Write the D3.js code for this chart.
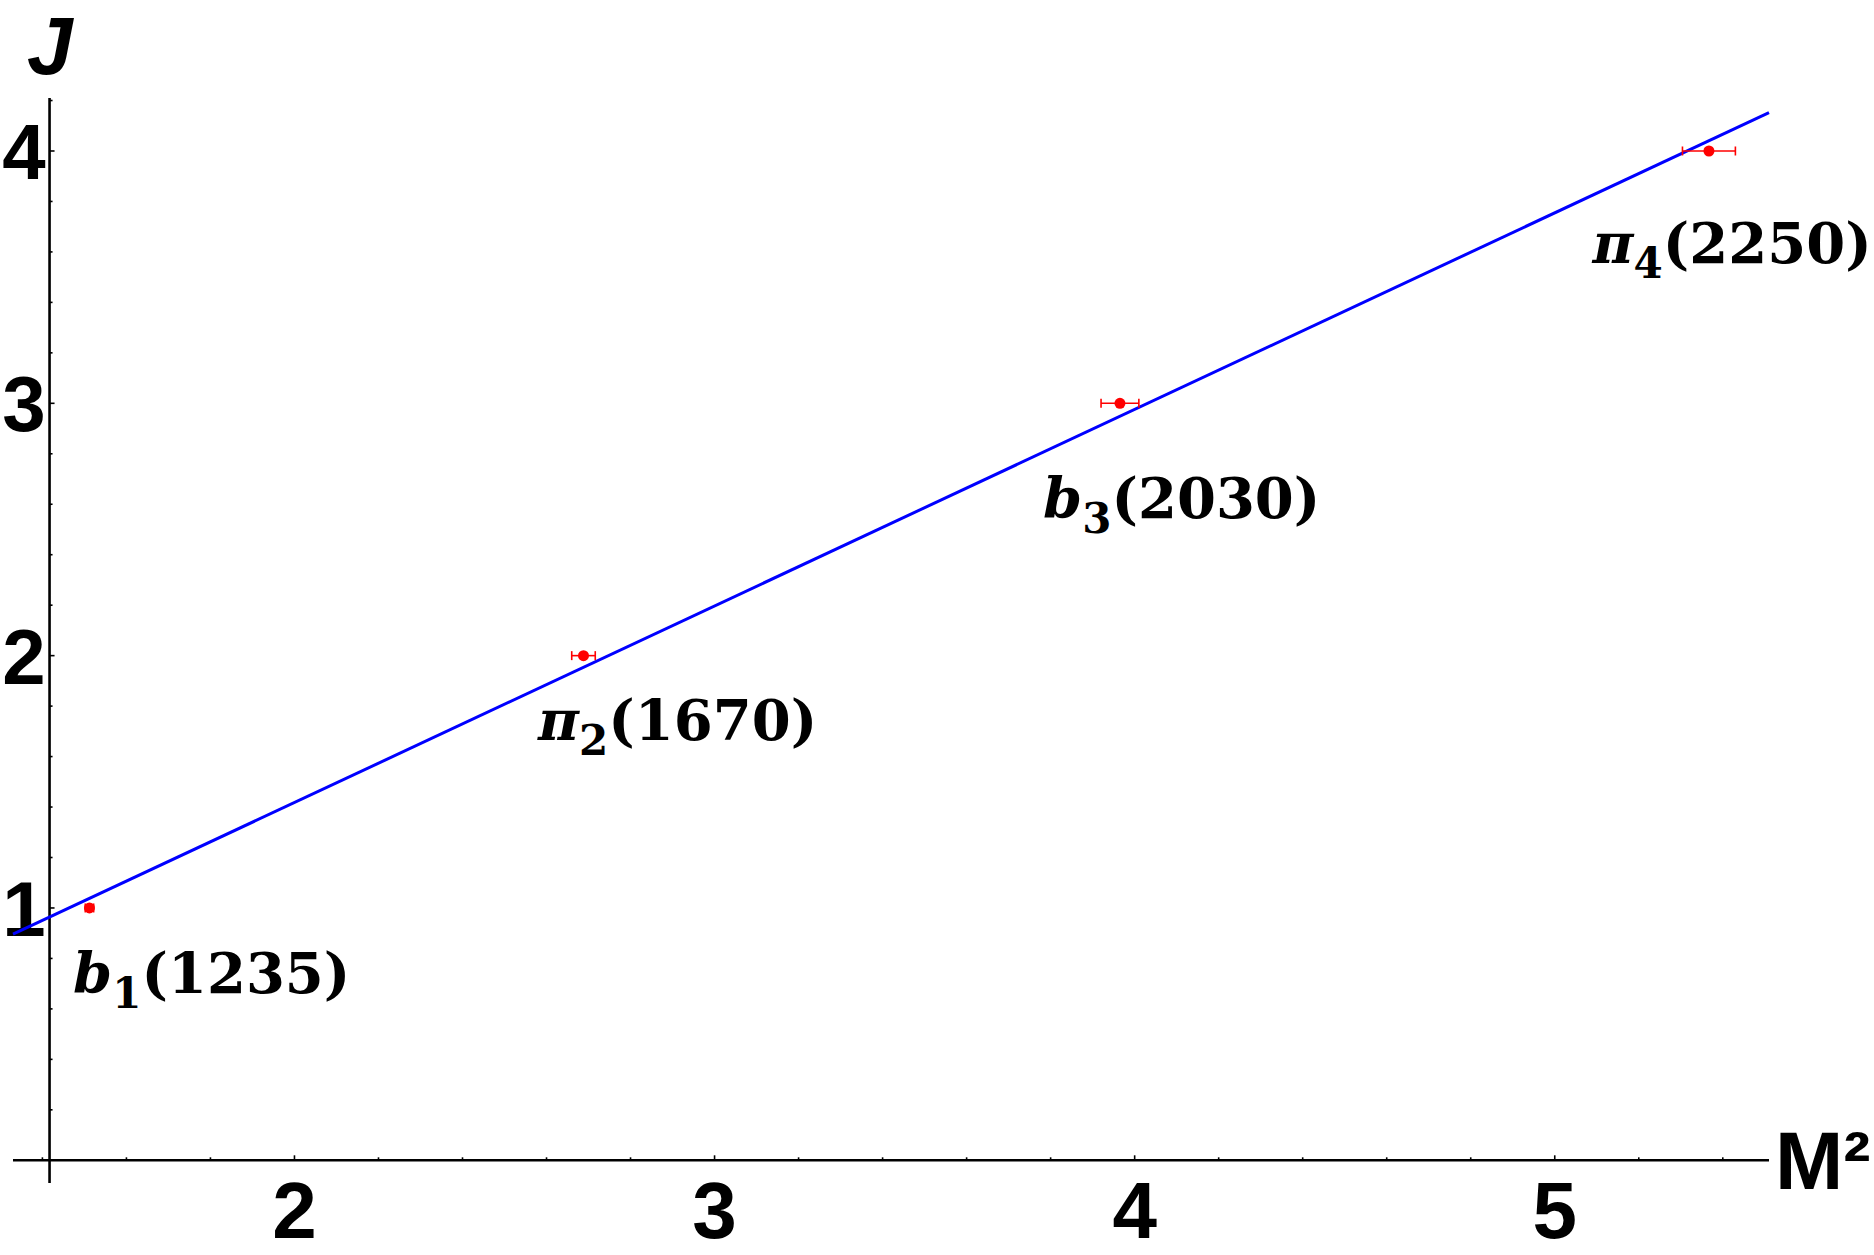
<!DOCTYPE html>
<meta charset="utf-8">
<style>
  body { margin: 0; background: #fff; }
  svg { display: block; }
</style>
<body>
<div class="chart"></div>

<script src="https://d3js.org/d3.v7.min.js"></script>
<script>

// data
var mesonNames = ["b", "π", "b", "π"];
var mesonSub   = ["1", "2", "3", "4"];
var mesonMass  = ["1235", "1670", "2030", "2250"];
var massSq     = [1.512, 2.688, 3.965, 5.367];
var massSqErr  = [0.010, 0.028, 0.045, 0.063];
var spinJ      = [1, 2, 3, 4];

// label anchors in data units (left edge, baseline)
var labelM2 = [1.473, 2.580, 3.782, 5.090];
var labelJ  = [0.663, 1.666, 2.546, 3.556];

// fitted trajectory, end points
var fitM2 = [1.33, 5.51];
var fitJ  = [0.896, 4.152];

var xTicks = [2, 3, 4, 5];
var yTicks = [1, 2, 3, 4];
var xMinor = d3.range(1.4, 5.5, 0.2);
var yMinor = d3.range(0.2, 4.21, 0.2);

var width = 1874, height = 1255;

var x = d3.scaleLinear().domain([1.33, 5.51]).range([13, 1769]);
var y = d3.scaleLinear().domain([-0.09, 4.21]).range([1183, 98]);
var yAxisAt = 1.417;

var svg = d3.select(".chart").append("svg")
    .attr("width", width)
    .attr("height", height);

// x axis line
svg.append("line")
    .attr("x1", x.range()[0]).attr("x2", x.range()[1])
    .attr("y1", y(0)).attr("y2", y(0))
    .style("stroke", "#000").style("stroke-width", "2.6px");

// y axis line
svg.append("line")
    .attr("x1", x(yAxisAt)).attr("x2", x(yAxisAt))
    .attr("y1", y.range()[0]).attr("y2", y.range()[1])
    .style("stroke", "#000").style("stroke-width", "2.6px");

// x ticks
svg.selectAll(".xminor")
    .data(xMinor)
  .enter().append("line")
    .attr("x1", function(d) { return x(d); })
    .attr("x2", function(d) { return x(d); })
    .attr("y1", y(0))
    .attr("y2", function(d) {
      return Math.abs(d - Math.round(d)) < 1e-6 ? y(0) - 5 : y(0) - 3; })
    .style("stroke", "#000").style("stroke-width", "1.6px");

svg.selectAll(".xlab")
    .data(xTicks)
  .enter().append("text")
    .attr("x", function(d) { return x(d); })
    .attr("y", y(0) + 78)
    .attr("text-anchor", "middle")
    .style("font-family", "'Liberation Sans', Arial, sans-serif")
    .style("font-weight", "bold")
    .style("font-size", "80px")
    .text(function(d) { return d; });

// y ticks
svg.selectAll(".yminor")
    .data(yMinor)
  .enter().append("line")
    .attr("y1", function(d) { return y(d); })
    .attr("y2", function(d) { return y(d); })
    .attr("x1", x(yAxisAt))
    .attr("x2", function(d) {
      return Math.abs(d - Math.round(d)) < 1e-6 ? x(yAxisAt) + 5 : x(yAxisAt) + 3; })
    .style("stroke", "#000").style("stroke-width", "1.6px");

svg.selectAll(".ylab")
    .data(yTicks)
  .enter().append("text")
    .attr("x", x(yAxisAt) - 4)
    .attr("y", function(d) { return y(d) + 28; })
    .attr("text-anchor", "end")
    .style("font-family", "'Liberation Sans', Arial, sans-serif")
    .style("font-weight", "bold")
    .style("font-size", "78px")
    .text(function(d) { return d; });

// axis titles
svg.append("text")
    .attr("x", 27).attr("y", 74)
    .style("font-family", "'Liberation Sans', Arial, sans-serif")
    .style("font-weight", "bold")
    .style("font-style", "italic")
    .style("font-size", "82px")
    .text("J");

svg.append("text")
    .attr("x", 1775).attr("y", 1189)
    .style("font-family", "'Liberation Sans', Arial, sans-serif")
    .style("font-weight", "bold")
    .style("font-size", "82px")
    .text("M²");

// fitted line
svg.append("line")
    .attr("x1", x(fitM2[0])).attr("y1", y(fitJ[0]))
    .attr("x2", x(fitM2[1])).attr("y2", y(fitJ[1]))
    .style("stroke", "#0000ff").style("stroke-width", "3px");

// error bars
var idx = d3.range(massSq.length);
svg.selectAll(".err")
    .data(idx)
  .enter().append("line")
    .attr("x1", function(i) { return x(massSq[i] - massSqErr[i]); })
    .attr("x2", function(i) { return x(massSq[i] + massSqErr[i]); })
    .attr("y1", function(i) { return y(spinJ[i]); })
    .attr("y2", function(i) { return y(spinJ[i]); })
    .style("stroke", "#ff0000").style("stroke-width", "1.6px");

[-1, 1].forEach(function(s) {
  svg.selectAll(".cap" + s)
      .data(idx)
    .enter().append("line")
      .attr("x1", function(i) { return x(massSq[i] + s * massSqErr[i]); })
      .attr("x2", function(i) { return x(massSq[i] + s * massSqErr[i]); })
      .attr("y1", function(i) { return y(spinJ[i]) - 4.5; })
      .attr("y2", function(i) { return y(spinJ[i]) + 4.5; })
      .style("stroke", "#ff0000").style("stroke-width", "1.6px");
});

// points
svg.selectAll(".dot")
    .data(idx)
  .enter().append("circle")
    .attr("cx", function(i) { return x(massSq[i]); })
    .attr("cy", function(i) { return y(spinJ[i]); })
    .attr("r", 5.5)
    .style("fill", "#ff0000");

// labels
var lab = svg.selectAll(".lab")
    .data(idx)
  .enter().append("text")
    .attr("x", function(i) { return x(labelM2[i]); })
    .attr("y", function(i) { return y(labelJ[i]); })
    .style("font-family", "'DejaVu Serif', serif")
    .style("font-weight", "bold")
    .style("font-size", "56px");

lab.append("tspan")
    .style("font-style", "italic")
    .text(function(i) { return mesonNames[i]; });
lab.append("tspan")
    .attr("dy", 15)
    .style("font-size", "42px")
    .text(function(i) { return mesonSub[i]; });
lab.append("tspan")
    .attr("dy", -15)
    .text(function(i) { return "(" + mesonMass[i] + ")"; });

</script>
</body>
